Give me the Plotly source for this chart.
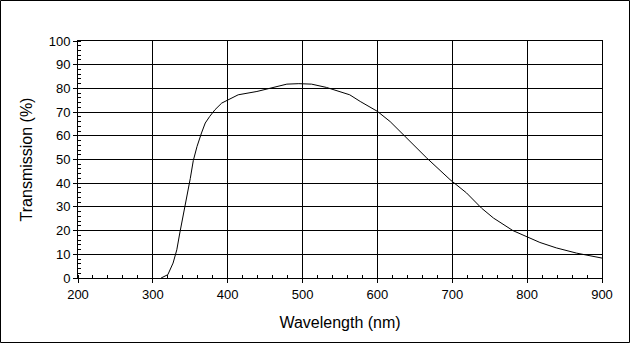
import plotly.graph_objects as go

wavelength = [311, 320, 327, 332, 336, 341, 345, 350, 354, 359, 365, 370, 376, 383, 392, 401,
              414, 439, 461, 479, 495, 512, 532, 563, 577, 600, 617, 639, 666, 697, 719, 739,
              755, 781, 800, 817, 839, 866, 900]
transmission = [0, 1.4, 6.3, 11.9, 19, 27, 34, 42, 49.5, 55.5, 61.2, 65.4, 68.2, 71, 73.8, 75.2,
                77.3, 78.7, 80.4, 81.8, 82, 81.8, 80.4, 77.3, 74.5, 70.3, 66, 59, 50.6, 41.5, 35.9, 29.5,
                25.3, 20, 17.3, 15, 12.7, 10.5, 8.4]

x_ticks = [200, 300, 400, 500, 600, 700, 800, 900]
y_ticks = [0, 10, 20, 30, 40, 50, 60, 70, 80, 90, 100]

fig = go.Figure(go.Scatter(x=wavelength, y=transmission, mode="lines",
                           line=dict(color="black", width=1), hoverinfo="skip"))

font = dict(family="Liberation Sans, Arial, sans-serif", size=13, color="black")
fig.update_layout(
    width=630, height=344,
    margin=dict(l=78, r=28, t=41, b=66),
    paper_bgcolor="white", plot_bgcolor="white",
    showlegend=False, font=font,
    xaxis=dict(range=[200, 900], tickvals=x_ticks, ticks="outside", ticklen=4, tickcolor="black",
               showgrid=True, gridcolor="black", gridwidth=1, zeroline=False,
               showline=True, linecolor="black", linewidth=1, mirror=True,
               minor=dict(dtick=20, ticks="inside", ticklen=3, tickcolor="black", showgrid=False),
               title=dict(text="Wavelength (nm)", standoff=16), fixedrange=True),
    yaxis=dict(range=[0, 100], tickvals=y_ticks, ticks="outside", ticklen=4, tickcolor="black",
               showgrid=True, gridcolor="black", gridwidth=1, zeroline=False,
               showline=True, linecolor="black", linewidth=1, mirror=True,
               minor=dict(dtick=2, ticks="inside", ticklen=3, tickcolor="black", showgrid=False),
               title=dict(text="Transmission (%)", standoff=12), fixedrange=True),
    shapes=[dict(type="rect", xref="paper", yref="paper",
                 x0=(0.5 - 78) / 524, x1=(629.5 - 78) / 524,
                 y0=(278 - 342.5) / 237, y1=(278 - 0.5) / 237,
                 line=dict(color="black", width=1), fillcolor="rgba(0,0,0,0)", layer="above")],
)

fig.write_html("out.html", config={"displayModeBar": False})
